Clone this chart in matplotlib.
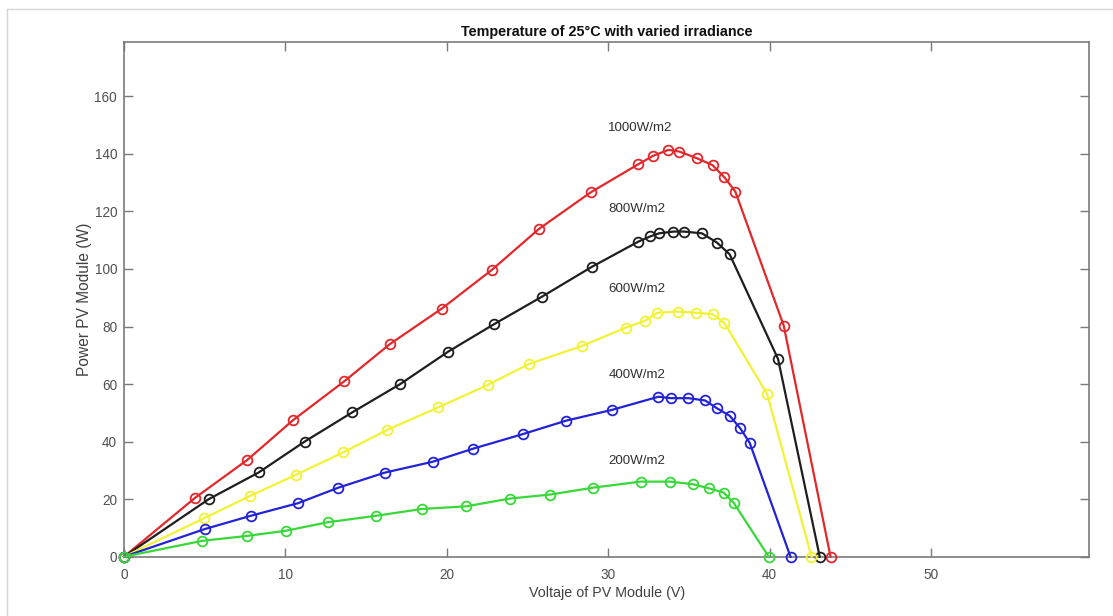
import matplotlib
matplotlib.use("Agg")
import matplotlib.pyplot as plt
from matplotlib.lines import Line2D

plt.rcParams['font.family'] = ['Liberation Sans', 'DejaVu Sans']

# ---- data ----
v_1000 = [0, 4.41, 7.63, 10.48, 13.63, 16.47, 19.68, 22.79, 25.7, 28.9, 31.86, 32.8,
          33.73, 34.41, 35.49, 36.46, 37.19, 37.87, 40.87, 43.77]
p_1000 = [0, 20.5, 33.6, 47.5, 60.9, 73.9, 86.2, 99.7, 113.9, 126.6, 136.4, 139.4,
          141.4, 140.8, 138.5, 136.1, 131.9, 126.9, 80.3, 0]

v_800 = [0, 5.25, 8.35, 11.19, 14.15, 17.11, 20.09, 22.95, 25.9, 29.0, 31.86, 32.59,
         33.15, 34.04, 34.7, 35.8, 36.73, 37.52, 40.52, 43.1]
p_800 = [0, 20.0, 29.3, 40.0, 50.2, 60.0, 71.3, 80.9, 90.4, 100.8, 109.5, 111.3,
         112.4, 113.0, 113.0, 112.4, 109.2, 105.1, 68.7, 0]

v_600 = [0, 4.94, 7.80, 10.63, 13.59, 16.32, 19.47, 22.53, 25.1, 28.35, 31.08, 32.28,
         33.04, 34.29, 35.43, 36.46, 37.2, 39.84, 42.59]
p_600 = [0, 13.3, 21.1, 28.4, 36.3, 44.1, 51.9, 59.7, 67.0, 73.2, 79.6, 82.0,
         84.8, 85.2, 84.8, 84.3, 81.2, 56.6, 0]

v_400 = [0, 5.0, 7.84, 10.78, 13.28, 16.14, 19.12, 21.6, 24.7, 27.4, 30.21, 33.11,
         33.88, 34.97, 36.0, 36.73, 37.52, 38.18, 38.76, 41.29]
p_400 = [0, 9.6, 14.2, 18.6, 24.0, 29.2, 33.0, 37.5, 42.6, 47.3, 51.0, 55.6,
         55.1, 55.1, 54.3, 51.6, 49.0, 44.6, 39.6, 0]

v_200 = [0, 4.83, 7.59, 10.01, 12.64, 15.6, 18.46, 21.19, 23.9, 26.4, 29.07, 32.01,
         33.83, 35.24, 36.21, 37.14, 37.76, 39.94]
p_200 = [0, 5.5, 7.2, 9.0, 12.0, 14.2, 16.6, 17.5, 20.2, 21.6, 24.0, 26.1,
         26.1, 25.2, 23.8, 22.3, 18.8, 0]

labels = ["1000W/m2", "800W/m2", "600W/m2", "400W/m2", "200W/m2"]
label_x = [30, 30, 30, 30, 30]
label_y = [149, 121, 93, 63.3, 33.3]

x_ticks = [0, 10, 20, 30, 40, 50]
y_ticks = [0, 20, 40, 60, 80, 100, 120, 140, 160]

title = "Temperature of 25°C with varied irradiance"
xlabel = "Voltaje of PV Module (V)"
ylabel = "Power PV Module (W)"

# ---- figure ----
W, H = 1113, 616
fig = plt.figure(figsize=(W / 100, H / 100), dpi=100)
fig.patch.set_facecolor('white')

# screenshot border lines
fig.add_artist(Line2D([7 / W, 7 / W], [0, 1 - 9 / H], transform=fig.transFigure,
                      color='#d6d6d6', lw=1))
fig.add_artist(Line2D([7 / W, 1], [1 - 9 / H, 1 - 9 / H], transform=fig.transFigure,
                      color='#d6d6d6', lw=1))

left, right, top, bottom = 124, 1089.3, 41.7, 556.7
ax = fig.add_axes([left / W, 1 - bottom / H, (right - left) / W, (bottom - top) / H])

series = [
    (v_1000, p_1000, '#e3282b'),
    (v_800, p_800, '#1e1e1e'),
    (v_600, p_600, '#f2f235'),
    (v_400, p_400, '#2222d8'),
    (v_200, p_200, '#38d838'),
]
for v, p, c in series:
    ax.plot(v, p, '-o', color=c, lw=1.6, markersize=7, markerfacecolor='none',
            markeredgewidth=1.3, clip_on=False, zorder=3)

axis_col = '#7a7a7a'
for s in ax.spines.values():
    s.set_color(axis_col)
    s.set_linewidth(1.2)

ax.set_xlim(0, 59.8)
ax.set_ylim(0, 179)
ax.set_xticks(x_ticks)
ax.set_yticks(y_ticks)
ax.tick_params(direction='in', length=6.5, width=1.0, color=axis_col,
               labelcolor='#505050', labelsize=9.8, top=True, right=True)
ax.tick_params(axis='x', pad=8)
ax.tick_params(axis='y', pad=5)

for t, x, y in zip(labels, label_x, label_y):
    ax.text(x, y, t, fontsize=9.6, color='#303030', ha='left', va='center')

ax.set_title(title, fontsize=10.4, fontweight='bold', color='#111111', pad=4)
ax.set_xlabel(xlabel, fontsize=10.3, color='#404040', labelpad=3)
ax.set_ylabel(ylabel, fontsize=11.2, color='#404040', labelpad=2)

fig.savefig("out.png", dpi=100)
